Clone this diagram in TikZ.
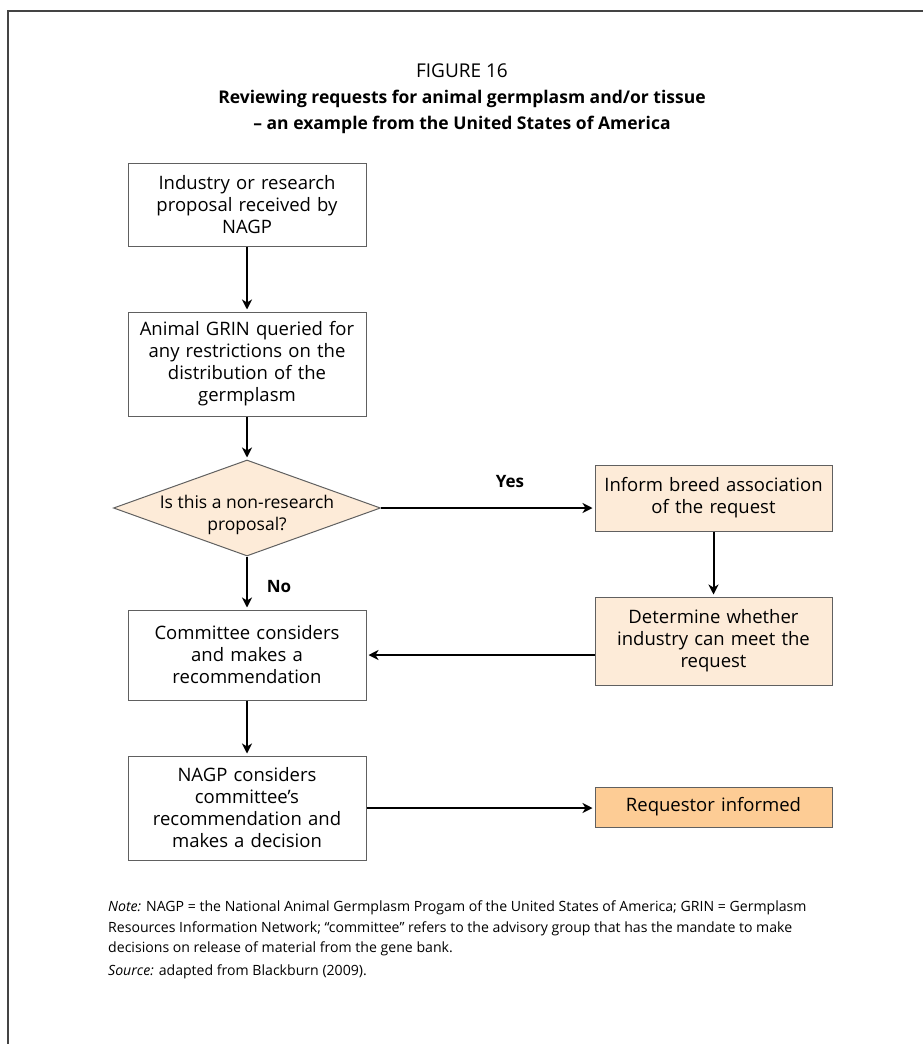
\documentclass[tikz,border=0pt]{standalone}
\usepackage{fontspec}
\setmainfont{Open Sans}
\usetikzlibrary{shapes.geometric,arrows.meta}
\definecolor{peach}{HTML}{FDEBD8}
\definecolor{orangebox}{HTML}{FDCC95}
\definecolor{edgegray}{HTML}{606060}
\definecolor{framegray}{HTML}{444444}
\begin{document}
\begin{tikzpicture}[x=1pt,y=-1pt,
  box/.style={draw=edgegray, line width=1pt, minimum width=238pt, inner sep=0pt,
    align=center, text width=234pt, font=\fontsize{18.5}{22}\selectfont},
  peachbox/.style={box, fill=peach},
  arr/.style={line width=2pt, -{Stealth[length=10pt,width=10pt,inset=3pt]}, shorten >=2pt},
  lbl/.style={font=\fontsize{17}{20}\selectfont\bfseries, inner sep=0pt},
  notetext/.style={font=\fontsize{14.1}{20}\selectfont, inner sep=0pt, align=left, anchor=north west}]
\useasboundingbox (0,0) rectangle (923,1044);
\draw[line width=1.5pt, draw=framegray] (923,11) -- (8,11) -- (8,1044);

% title
\node[font=\fontsize{19}{22}\selectfont, inner sep=0pt] (fig) at (462,71) {FIGURE 16};
\node[font=\fontsize{17.5}{26}\selectfont\bfseries, inner sep=0pt, align=center] (title) at (462,112)
  {Reviewing requests for animal germplasm and/or tissue\\– an example from the United States of America};

% boxes
\node[box, minimum height=83pt] (b1) at (247,204.5) {Industry or research\\proposal received by\\NAGP};
\node[box, minimum height=104pt] (b2) at (247,364) {Animal GRIN queried for\\any restrictions on the\\distribution of the\\germplasm};
\node[diamond, draw=edgegray, line width=1pt, fill=peach, minimum width=267pt, minimum height=96pt, inner sep=0pt] (dia) at (247,508) {};
\node[font=\fontsize{17.5}{22}\selectfont, align=center, inner sep=0pt] (diatext) at (247,515) {Is this a non-research\\proposal?};
\node[peachbox, minimum width=237pt, minimum height=66pt] (b3) at (713.5,498) {Inform breed association\\of the request};
\node[peachbox, minimum width=237pt, minimum height=88pt] (b4) at (713.5,641) {Determine whether\\industry can meet the\\request};
\node[box, minimum height=90pt] (b5) at (247,655) {Committee considers\\and makes a\\recommendation};
\node[box, minimum height=104pt] (b6) at (247,808) {NAGP considers\\committee’s\\recommendation and\\makes a decision};
\node[box, fill=orangebox, minimum width=237pt, minimum height=40pt] (b7) at (713.5,807) {Requestor informed};

% connectors
\draw[arr] (b1) -- (b2);
\draw[arr] (b2) -- (dia);
\draw[arr] (dia.east) -- (dia.east -| b3.west);
\draw[arr] (b3) -- (b4);
\draw[arr] (dia) -- (b5);
\draw[arr] (b5.east -| b4.west) -- (b5.east);
\draw[arr] (b5) -- (b6);
\draw[arr] (b6.east) -- (b6.east -| b7.west);

\node[lbl] (yes) at (510,482) {Yes};
\node[lbl] (no) at (279,587) {No};

% notes
\node[notetext] (note) at (108,901) {\textit{Note:} NAGP = the National Animal Germplasm Progam of the United States of America; GRIN = Germplasm\\Resources Information Network; “committee” refers to the advisory group that has the mandate to make\\decisions on release of material from the gene bank.};
\node[notetext] (source) at (108,964) {\textit{Source:} adapted from Blackburn (2009).};
\end{tikzpicture}
\end{document}
